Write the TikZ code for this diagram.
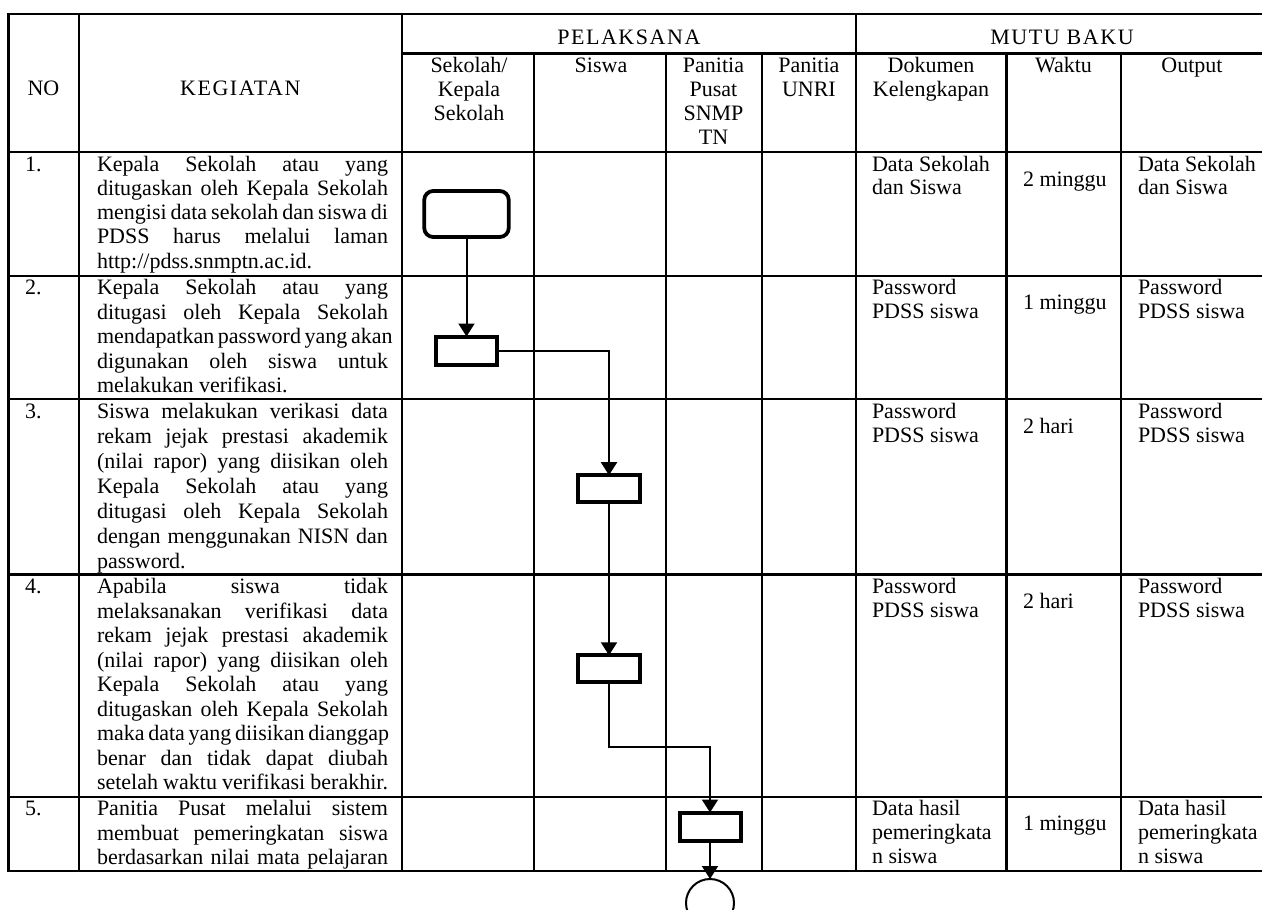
\documentclass[tikz,border=0pt]{standalone}
\usepackage{fontspec}
\setmainfont{Liberation Serif}
\usetikzlibrary{arrows.meta}
\newcommand\JL[1]{\hbox to 291pt{#1}}
\newcommand\NL[1]{\hbox{#1}}
\newcommand\KG[2]{\vtop{\baselineskip=#1\lineskiplimit=-100pt\lineskip=0pt #2}}
\newcommand\CL[1]{\vtop{\baselineskip=24pt\lineskiplimit=-100pt\lineskip=0pt\halign{\hfil##\hfil\cr#1\crcr}}}
\newcommand\SP[1]{{\addfontfeature{LetterSpace=7}#1}}
\begin{document}
\begin{tikzpicture}[x=1pt,y=-1pt,
  font=\fontsize{22}{24.5}\selectfont,
  every node/.style={inner sep=0pt, outer sep=0pt},
  tbl/.style={line width=2.4pt, line cap=rect},
  txt/.style={anchor=base west},
  ctxt/.style={anchor=base},
  pbox/.style={draw, line width=4pt, minimum width=61.5pt, minimum height=28pt},
  rbox/.style={draw, line width=3.8pt, rounded corners=9pt, minimum width=84.5pt, minimum height=46pt},
  conn/.style={line width=2pt},
  arr/.style={conn, -{Triangle[width=16pt,length=13pt]}}]
\useasboundingbox (0,0) rectangle (1262,910);

% ---------- table grid ----------
\draw[tbl] (8.3,14) -- (1262,14);
\draw[tbl] (401.7,53.3) -- (1262,53.3);
\foreach \yy in {151.7,275.7,399,574.5,796.7,870.7}
  \draw[tbl] (8.3,\yy) -- (1262,\yy);
\foreach \xx in {8.3,79,401.7,856}
  \draw[tbl] (\xx,14) -- (\xx,870.7);
\foreach \xx in {534,666,761.7,1006.5,1121}
  \draw[tbl] (\xx,53.3) -- (\xx,870.7);

% ---------- headers ----------
\node[ctxt] (hNO) at (43.5,95.5) {NO};
\node[ctxt] (hKEG) at (240.3,95.5) {\SP{KEGIATAN}};
\node[ctxt] (hPEL) at (628.9,44.5) {\SP{PELAKSANA}};
\node[ctxt] (hMUTU) at (1062,44.5) {\SP{MUTU BAKU}};
\node[ctxt] (hS1) at (469,72) {\CL{Sekolah/\cr Kepala\cr Sekolah}};
\node[ctxt] (hS2) at (601,72) {\CL{Siswa}};
\node[ctxt] (hS3) at (713.5,72) {\CL{Panitia\cr Pusat\cr SNMP\cr TN}};
\node[ctxt] (hS4) at (808.9,72) {\CL{Panitia\cr UNRI}};
\node[ctxt] (hS5) at (931,72) {\CL{Dokumen\cr Kelengkapan}};
\node[ctxt] (hS6) at (1063.5,72) {\CL{Waktu}};
\node[ctxt] (hS7) at (1192,72) {\CL{Output}};

% ---------- numbers ----------
\node[txt] (n1) at (25,171) {1.};
\node[txt] (n2) at (25,294.5) {2.};
\node[txt] (n3) at (25,418) {3.};
\node[txt] (n4) at (25,593.5) {4.};
\node[txt] (n5) at (25,815.5) {5.};

% ---------- kegiatan ----------
\node[txt] (t1) at (97,171) {\KG{24.3pt}{%
  \JL{Kepala Sekolah atau yang}
  \JL{ditugaskan oleh Kepala Sekolah}
  \JL{mengisi data sekolah dan siswa di}
  \JL{PDSS harus melalui laman}
  \NL{http://pdss.snmptn.ac.id.}}};
\node[txt] (t2) at (97,294.5) {\KG{24.5pt}{%
  \JL{Kepala Sekolah atau yang}
  \JL{ditugasi oleh Kepala Sekolah}
  \JL{mendapatkan password yang akan}
  \JL{digunakan oleh siswa untuk}
  \NL{melakukan verifikasi.}}};
\node[txt] (t3) at (97,418) {\KG{25pt}{%
  \JL{Siswa melakukan verikasi data}
  \JL{rekam jejak prestasi akademik}
  \JL{(nilai rapor) yang diisikan oleh}
  \JL{Kepala Sekolah atau yang}
  \JL{ditugasi oleh Kepala Sekolah}
  \JL{dengan menggunakan NISN dan}
  \NL{password.}}};
\node[txt] (t4) at (97,593.5) {\KG{24.5pt}{%
  \JL{Apabila siswa tidak}
  \JL{melaksanakan verifikasi data}
  \JL{rekam jejak prestasi akademik}
  \JL{(nilai rapor) yang diisikan oleh}
  \JL{Kepala Sekolah atau yang}
  \JL{ditugaskan oleh Kepala Sekolah}
  \JL{maka data yang diisikan dianggap}
  \JL{benar dan tidak dapat diubah}
  \JL{setelah waktu verifikasi berakhir.}}};
\node[txt] (t5) at (97,815.5) {\KG{24.5pt}{%
  \JL{Panitia Pusat melalui sistem}
  \JL{membuat pemeringkatan siswa}
  \JL{berdasarkan nilai mata pelajaran}}};

% ---------- dokumen ----------
\node[txt] (d1) at (872,171) {\KG{23.5pt}{\NL{Data Sekolah}\NL{dan Siswa}}};
\node[txt] (d2) at (872,294.5) {\KG{24pt}{\NL{Password}\NL{PDSS siswa}}};
\node[txt] (d3) at (872,418) {\KG{24pt}{\NL{Password}\NL{PDSS siswa}}};
\node[txt] (d4) at (872,593.5) {\KG{24pt}{\NL{Password}\NL{PDSS siswa}}};
\node[txt] (d5) at (872,815.5) {\KG{23.8pt}{\NL{Data hasil}\NL{pemeringkata}\NL{n siswa}}};

% ---------- waktu ----------
\node[txt] (w1) at (1023,186) {2 minggu};
\node[txt] (w2) at (1023,309.5) {1 minggu};
\node[txt] (w3) at (1023,433) {2 hari};
\node[txt] (w4) at (1023,608.5) {2 hari};
\node[txt] (w5) at (1023,830.5) {1 minggu};

% ---------- output ----------
\node[txt] (o1) at (1138,171) {\KG{23.5pt}{\NL{Data Sekolah}\NL{dan Siswa}}};
\node[txt] (o2) at (1138,294.5) {\KG{24pt}{\NL{Password}\NL{PDSS siswa}}};
\node[txt] (o3) at (1138,418) {\KG{24pt}{\NL{Password}\NL{PDSS siswa}}};
\node[txt] (o4) at (1138,593.5) {\KG{24pt}{\NL{Password}\NL{PDSS siswa}}};
\node[txt] (o5) at (1138,815.5) {\KG{23.8pt}{\NL{Data hasil}\NL{pemeringkata}\NL{n siswa}}};

% ---------- flow shapes ----------
\node[rbox] (b1) at (466.5,214) {};
\node[pbox] (b2) at (466.5,350.5) {};
\node[pbox, minimum height=27pt] (b3) at (609,488.7) {};
\node[pbox, minimum height=27pt] (b4) at (609,668.8) {};
\node[pbox, minimum width=61pt] (b5) at (710,826.5) {};
\node[draw, circle, line width=2pt, minimum size=48pt] (c) at (710,903) {};
\coordinate (j1) at (609,747.3);

\draw[arr] (b1.south) -- (b2.north);
\draw[arr] (b2.east) -| (b3.north);
\draw[arr] (b3.south) -- (b4.north);
\draw[arr] (b4.south) -- (j1) -| (b5.north);
\draw[arr] (b5.south) -- (c.north);
\end{tikzpicture}
\end{document}
